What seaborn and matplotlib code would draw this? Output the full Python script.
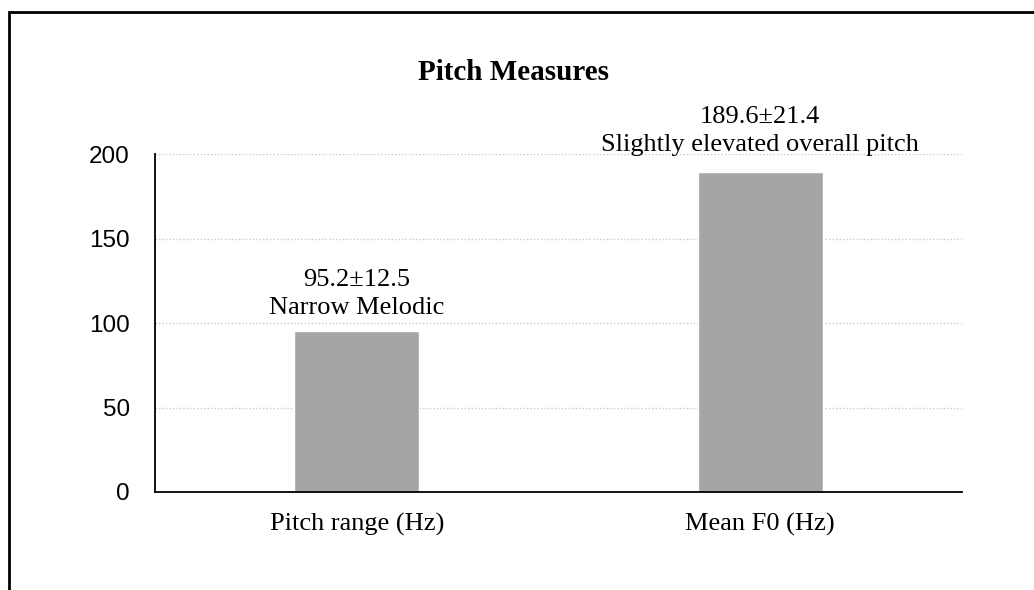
import matplotlib
matplotlib.use("Agg")
import matplotlib.pyplot as plt
import seaborn as sns
import pandas as pd
from matplotlib.patches import Rectangle

categories = ["Pitch range (Hz)", "Mean F0 (Hz)"]
values = [95.2, 189.6]
annotations = ["95.2±12.5\nNarrow Melodic", "189.6±21.4\nSlightly elevated overall pitch"]
yticks = [0, 50, 100, 150, 200]
title = "Pitch Measures"

sns.set_theme(style="white")
plt.rcParams["font.family"] = ["Liberation Serif", "DejaVu Serif"]
plt.rcParams["text.color"] = "black"
plt.rcParams["xtick.color"] = "black"
plt.rcParams["ytick.color"] = "black"

fig = plt.figure(figsize=(10.34, 5.9), dpi=100)
ax = fig.add_axes([155/1034, 98/590, (962-155)/1034, (492-154)/590])

df = pd.DataFrame({"cat": categories, "val": values})
sns.barplot(data=df, x="cat", y="val", color="#a5a5a5", width=0.31, ax=ax, saturation=1)

ax.set_xlim(-0.5, 1.5)
ax.set_ylim(0, 200)
ax.set_yticks(yticks)
ax.set_yticklabels([str(t) for t in yticks], fontfamily="Liberation Sans", fontsize=17.5)
ax.tick_params(axis="y", length=0, pad=18)
ax.tick_params(axis="x", length=0, pad=15, labelsize=19)
for lbl in ax.get_xticklabels():
    lbl.set_fontfamily("Liberation Serif")
ax.set_xlabel("")
ax.set_ylabel("")
ax.yaxis.grid(True, linestyle=(0, (1, 1.5)), color="#c8c8c8", linewidth=1)
ax.set_axisbelow(True)
for s in ["top", "right"]:
    ax.spines[s].set_visible(False)
for s in ["left", "bottom"]:
    ax.spines[s].set_color("black")
    ax.spines[s].set_linewidth(1.3)

for i, (v, t) in enumerate(zip(values, annotations)):
    ax.annotate(t, xy=(i, v), xytext=(0, 9 + 2 * i), textcoords="offset points",
                ha="center", va="bottom", fontsize=19, linespacing=1.35,
                fontfamily="Liberation Serif", annotation_clip=False)

fig.text(514/1034, 1 - 73/590, title, ha="center", va="center",
         fontsize=21, fontweight="bold", fontfamily="Liberation Serif")

fig.patches.append(Rectangle((9/1034, -0.1), 1.2, 1 - 12/590 + 0.1,
                             transform=fig.transFigure, fill=False,
                             edgecolor="black", linewidth=2))

fig.savefig("out.png", dpi=100)
